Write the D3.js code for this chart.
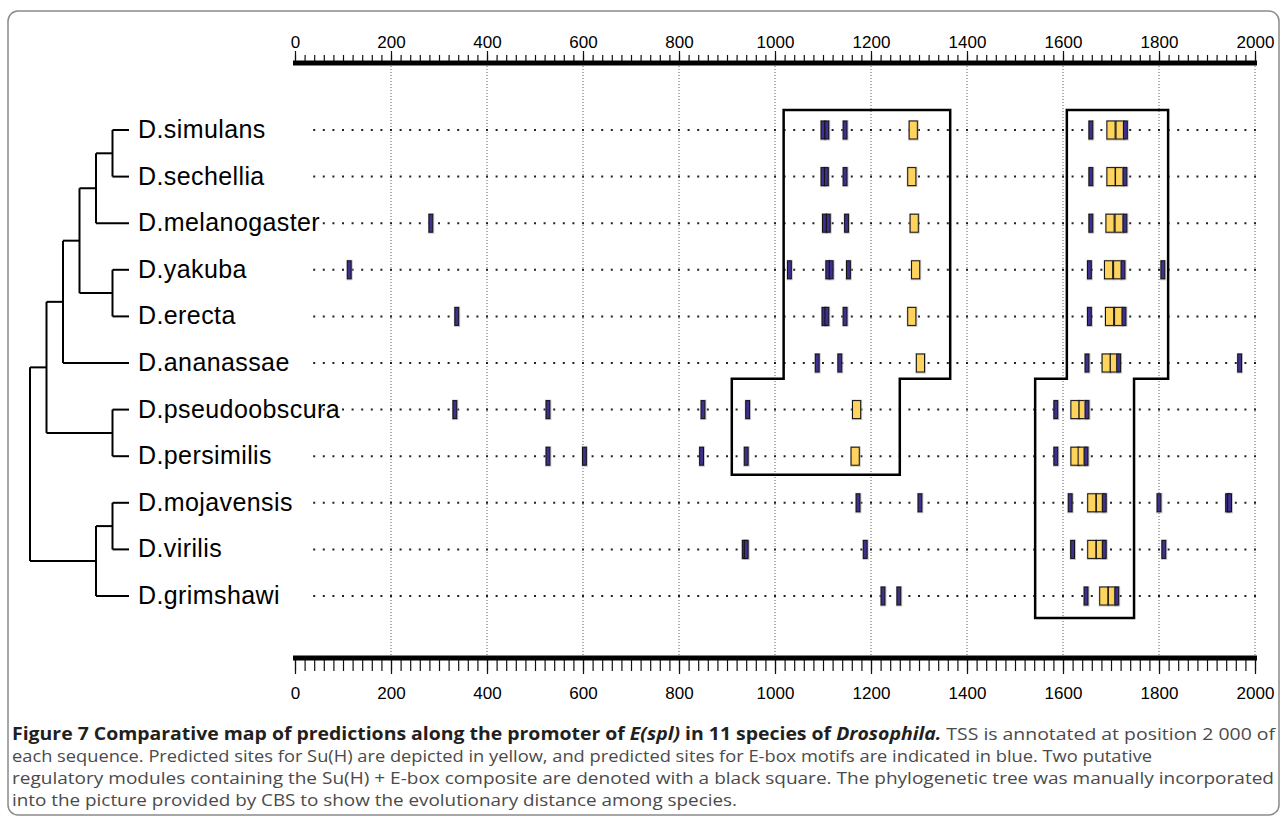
<!DOCTYPE html>
<html>
<head>
<meta charset="utf-8">
<script src="https://cdn.jsdelivr.net/npm/d3@7"></script>
<style>
  body { margin: 0; background: #fff; }
  svg { display: block; }
</style>
</head>
<body>
<div id="chart"></div>
<script>
// species, top to bottom
const species = ["D.simulans", "D.sechellia", "D.melanogaster", "D.yakuba", "D.erecta",
  "D.ananassae", "D.pseudoobscura", "D.persimilis", "D.mojavensis", "D.virilis", "D.grimshawi"];

// predicted E-box sites (blue), one list per species
const eboxSites = [
  [1100, 1108, 1146, 1658, 1730],
  [1100, 1107, 1146, 1658, 1729],
  [283, 1103, 1111, 1149, 1658, 1729],
  [113, 1030, 1110, 1117, 1153, 1655, 1725, 1808],
  [337, 1102, 1108, 1146, 1655, 1727],
  [1088, 1135, 1650, 1716, 1968],
  [333, 527, 850, 943, 1585, 1650],
  [527, 603, 847, 940, 1585, 1648],
  [1173, 1302, 1615, 1686, 1800, 1943, 1947],
  [936, 940, 1188, 1620, 1686, 1810],
  [1225, 1258, 1648, 1712]
];

// predicted Su(H) sites (yellow)
const suhSites = [
  [1288, 1700, 1719],
  [1285, 1700, 1718],
  [1290, 1698, 1717],
  [1293, 1695, 1714],
  [1285, 1697, 1716],
  [1303, 1690, 1707],
  [1170, 1625, 1642],
  [1167, 1625, 1640],
  [1660, 1678],
  [1660, 1678],
  [1685, 1703]
];

// regulatory modules: outline vertices as [position, row]
const module1 = [[1018, -0.43], [1365, -0.43], [1365, 5.34], [1260, 5.34], [1260, 7.4],
  [910, 7.4], [910, 5.34], [1018, 5.34]];
const module2 = [[1608, -0.43], [1819, -0.43], [1819, 5.34], [1748, 5.34], [1748, 10.47],
  [1542, 10.47], [1542, 5.34], [1608, 5.34]];

const majorTicks = d3.range(0, 2001, 200);
const minorTicks = d3.range(0, 2001, 20);

// phylogeny, branch lengths in tree levels
const tree = {len: 0, children: [
  {len: 1, children: [
    {len: 1, children: [
      {len: 1, children: [
        {len: 1, children: [
          {len: 1, children: [{name: "D.simulans", len: 1}, {name: "D.sechellia", len: 1}]},
          {name: "D.melanogaster", len: 2}
        ]},
        {len: 2, children: [{name: "D.yakuba", len: 1}, {name: "D.erecta", len: 1}]}
      ]},
      {name: "D.ananassae", len: 4}
    ]},
    {len: 4, children: [{name: "D.pseudoobscura", len: 1}, {name: "D.persimilis", len: 1}]}
  ]},
  {len: 4, children: [
    {len: 1, children: [{name: "D.mojavensis", len: 1}, {name: "D.virilis", len: 1}]},
    {name: "D.grimshawi", len: 2}
  ]}
]};

const captionLines = [
  [{t: "Figure 7 Comparative map of predictions along the promoter of ", b: true},
   {t: "E(spl)", b: true, i: true}, {t: " in 11 species of ", b: true},
   {t: "Drosophila.", b: true, i: true}, {t: " TSS is annotated at position 2 000 of"}],
  [{t: "each sequence. Predicted sites for Su(H) are depicted in yellow, and predicted sites for E-box motifs are indicated in blue. Two putative"}],
  [{t: "regulatory modules containing the Su(H) + E-box composite are denoted with a black square. The phylogenetic tree was manually incorporated"}],
  [{t: "into the picture provided by CBS to show the evolutionary distance among species."}]
];
const captionWidths = [1263, 1140, 1262, 725];

const W = 1285, H = 821;
const svg = d3.select("#chart").append("svg").attr("width", W).attr("height", H);

// frame
svg.append("rect")
  .attr("x", 8).attr("y", 11).attr("width", 1271).attr("height", 804)
  .attr("rx", 10).attr("fill", "none")
  .attr("stroke", "#8a8a8a").attr("stroke-width", 1.5);

const x = d3.scaleLinear().domain([0, 2000]).range([295, 1255]);
const y = d3.scaleLinear().domain([0, 10]).range([130, 596]);

const topBar = 63, botBar = 658;

// vertical grid
svg.append("g").selectAll("line")
  .data(majorTicks.filter(d => d > 0))
  .enter().append("line")
  .attr("x1", d => x(d)).attr("x2", d => x(d))
  .attr("y1", topBar + 3).attr("y2", botBar - 3)
  .attr("stroke", "#333").attr("stroke-width", 0.8)
  .attr("stroke-dasharray", "1,2");

// axes
function drawAxis(pos, barY) {
  const isTop = pos === "top";
  const base = isTop ? barY - 2 : barY + 2;
  const minor = (isTop ? d3.axisTop(x) : d3.axisBottom(x))
    .tickValues(minorTicks).tickSize(isTop ? 6 : 11).tickFormat("");
  const major = (isTop ? d3.axisTop(x) : d3.axisBottom(x))
    .tickValues(majorTicks).tickSize(isTop ? 10 : 14).tickPadding(isTop ? 3 : 13)
    .tickFormat(d3.format("d"));
  [minor, major].forEach(ax => {
    const g = svg.append("g").attr("transform", `translate(0,${base})`).call(ax);
    g.select(".domain").remove();
    g.selectAll("line").attr("stroke", "#111").attr("stroke-width", 1.2);
    g.selectAll("text").attr("fill", "#000")
      .style("font-family", "'Liberation Sans', Arial, sans-serif").style("font-size", "17px");
  });
  svg.append("line")
    .attr("x1", x(0) - 2).attr("x2", x(2000) + 2)
    .attr("y1", barY).attr("y2", barY)
    .attr("stroke", "#000").attr("stroke-width", 5);
}
drawAxis("top", topBar);
drawAxis("bottom", botBar);

// dotted sequence lines
const step = x(20) - x(0);
svg.append("g").selectAll("line")
  .data(species)
  .enter().append("line")
  .attr("x1", x(40) - 1).attr("x2", x(2016))
  .attr("y1", (d, i) => y(i)).attr("y2", (d, i) => y(i))
  .attr("stroke", "#222").attr("stroke-width", 2)
  .attr("stroke-dasharray", `2,${step - 2}`);

// site marks
const markH = 18;
function drawSites(lists, width, fill) {
  const rows = svg.append("g").selectAll("g")
    .data(lists)
    .enter().append("g");
  const w = x(width) - x(0);
  // soft grey halo
  rows.selectAll("rect.halo")
    .data((d, i) => d.map(v => ({v, i})))
    .enter().append("rect").attr("class", "halo")
    .attr("x", d => x(d.v) - w / 2 - 1).attr("y", d => y(d.i) - markH / 2 - 1)
    .attr("width", w + 2.5).attr("height", markH + 2.5)
    .attr("fill", "#a0a0a0").attr("opacity", 0.6);
  rows.selectAll("rect.site")
    .data((d, i) => d.map(v => ({v, i})))
    .enter().append("rect").attr("class", "site")
    .attr("x", d => x(d.v) - w / 2).attr("y", d => y(d.i) - markH / 2)
    .attr("width", w).attr("height", markH)
    .attr("fill", fill).attr("stroke", "#111").attr("stroke-width", 1);
}
drawSites(suhSites, 17, "#ffd45e");
drawSites(eboxSites, 8, "#3f2f8e");

// module outlines
const line = d3.line().x(d => x(d[0])).y(d => y(d[1]));
[module1, module2].forEach(m => {
  svg.append("path")
    .attr("d", line(m) + "Z")
    .attr("fill", "none").attr("stroke", "#000").attr("stroke-width", 2.5)
    .attr("stroke-linejoin", "miter");
});

// tree
const root = d3.hierarchy(tree);
root.each(n => { n.depthLen = (n.parent ? n.parent.depthLen : 0) + n.data.len; });
const tx = d3.scaleLinear().domain([0, 6]).range([30, 129]);
root.leaves().forEach(l => { l.yy = y(species.indexOf(l.data.name)); });
root.eachAfter(n => {
  if (n.children) n.yy = (n.children[0].yy + n.children[n.children.length - 1].yy) / 2;
});
const tg = svg.append("g").attr("stroke", "#000").attr("stroke-width", 2).attr("fill", "none");
root.descendants().forEach(n => {
  if (n.children) {
    tg.append("line")
      .attr("x1", tx(n.depthLen)).attr("x2", tx(n.depthLen))
      .attr("y1", n.children[0].yy).attr("y2", n.children[n.children.length - 1].yy);
  }
  if (n.parent) {
    tg.append("line")
      .attr("x1", tx(n.parent.depthLen)).attr("x2", tx(n.depthLen))
      .attr("y1", n.yy).attr("y2", n.yy);
  }
});

// species labels
svg.append("g").selectAll("text")
  .data(species)
  .enter().append("text")
  .attr("x", 138).attr("y", (d, i) => y(i) + 8)
  .style("font-family", "'Liberation Sans', Arial, sans-serif")
  .style("font-size", "25px")
  .style("letter-spacing", "0.4px")
  .attr("fill", "#000")
  .text(d => d);

// caption
const cap = svg.append("g")
  .style("font-family", "'Open Sans', 'Noto Sans', sans-serif")
  .style("font-size", "17px");
captionLines.forEach((parts, li) => {
  const t = cap.append("text")
    .attr("x", 12).attr("y", 740 + li * 22)
    .attr("textLength", captionWidths[li])
    .attr("lengthAdjust", "spacingAndGlyphs");
  parts.forEach(p => {
    t.append("tspan")
      .attr("font-weight", p.b ? "bold" : "normal")
      .attr("font-style", p.i ? "italic" : "normal")
      .attr("fill", p.b ? "#231f20" : "#4a4a4a")
      .text(p.t);
  });
});
</script>
</body>
</html>
